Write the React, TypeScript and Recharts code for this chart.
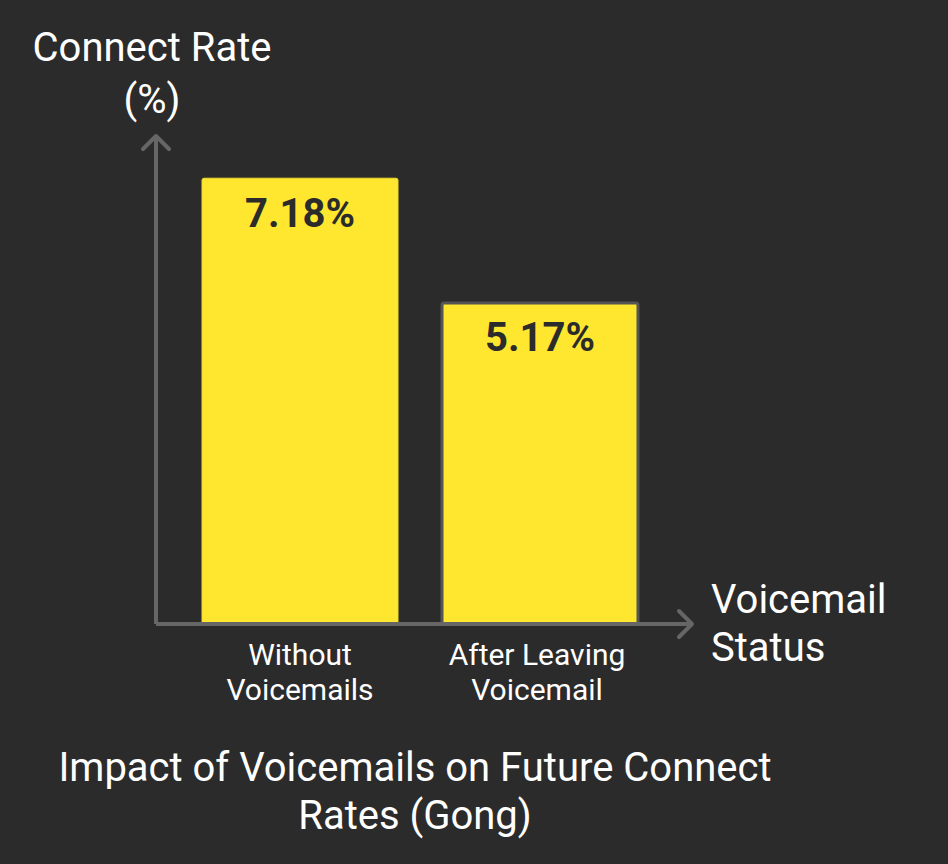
import React from "react";
import { BarChart, Bar, XAxis, YAxis, Cell, LabelList } from "recharts";

const categories = ["Without Voicemails", "After Leaving Voicemail"];
const tickLines = [
  ["Without", "Voicemails"],
  ["After Leaving", "Voicemail"],
];
const connectRates = [7.18, 5.17];
const valueLabels = ["7.18%", "5.17%"];

const data = categories.map((c, i) => ({
  name: c,
  value: connectRates[i],
  label: valueLabels[i],
}));

const BG = "#2b2b2b";
const AXIS = "#666666";
const FONT = "Roboto, 'Noto Sans', sans-serif";

const Tick = (props: any) => {
  const { x, y, payload, index } = props;
  const lines = tickLines[index] ?? [String(payload.value)];
  return (
    <g>
      {lines.map((l: string, i: number) => (
        <text
          key={i}
          x={x - (index === 1 ? 3 : 0)}
          y={y + 33 + i * 35}
          textAnchor="middle"
          fill="#ffffff"
          fontSize={30}
          fontFamily={FONT}
        >
          {l}
        </text>
      ))}
    </g>
  );
};

export default function App() {
  return (
    <div
      style={{
        position: "fixed",
        left: 0,
        top: 0,
        width: 948,
        height: 864,
        background: BG,
        fontFamily: FONT,
        overflow: "hidden",
      }}
    >
      <BarChart
        width={948}
        height={864}
        data={data}
        margin={{ top: 136, right: 256, bottom: 140, left: 146 }}
      >
        <defs>
          <marker
            id="arrowHead"
            viewBox="-18 -18 22 36"
            refX={0}
            refY={0}
            markerWidth={22}
            markerHeight={36}
            markerUnits="userSpaceOnUse"
            orient="auto-start-reverse"
          >
            <path
              d="M -13 -13 L 0 0 L -13 13"
              fill="none"
              stroke={AXIS}
              strokeWidth={4}
              strokeLinecap="round"
              strokeLinejoin="round"
            />
          </marker>
        </defs>
        <XAxis
          dataKey="name"
          height={100}
          padding={{ left: 24, right: 32 }}
          tickLine={false}
          axisLine={{ stroke: AXIS, strokeWidth: 4, markerEnd: "url(#arrowHead)" }}
          tick={<Tick />}
          interval={0}
        />
        <YAxis
          width={10}
          domain={[0, 7.86]}
          tick={false}
          tickLine={false}
          axisLine={{ stroke: AXIS, strokeWidth: 4, markerStart: "url(#arrowHead)" }}
        />
        <Bar dataKey="value" barSize={196} isAnimationActive={false} radius={[2, 2, 0, 0]}>
          {data.map((d, i) => (
            <Cell
              key={d.name}
              fill="#ffe72f"
              stroke={i === 1 ? "#555555" : "#f0d82a"}
              strokeWidth={i === 1 ? 3 : 1}
            />
          ))}
          <LabelList
            dataKey="label"
            position="insideTop"
            offset={20}
            fill="#2b2b2b"
            fontSize={40}
            fontWeight={700}
            fontFamily={FONT}
          />
        </Bar>
      </BarChart>
      <div
        style={{
          position: "absolute",
          left: 0,
          width: 304,
          top: 22,
          textAlign: "center",
          color: "#fff",
          fontSize: 40,
          lineHeight: "52px",
        }}
      >
        Connect Rate
        <br />
        (%)
      </div>
      <div
        style={{
          position: "absolute",
          left: 711,
          top: 576,
          color: "#fff",
          fontSize: 40,
          lineHeight: "48px",
        }}
      >
        Voicemail
        <br />
        Status
      </div>
      <div
        style={{
          position: "absolute",
          left: 0,
          width: 830,
          top: 744,
          textAlign: "center",
          color: "#fff",
          fontSize: 40,
          lineHeight: "48px",
        }}
      >
        Impact of Voicemails on Future Connect
        <br />
        Rates (Gong)
      </div>
    </div>
  );
}
